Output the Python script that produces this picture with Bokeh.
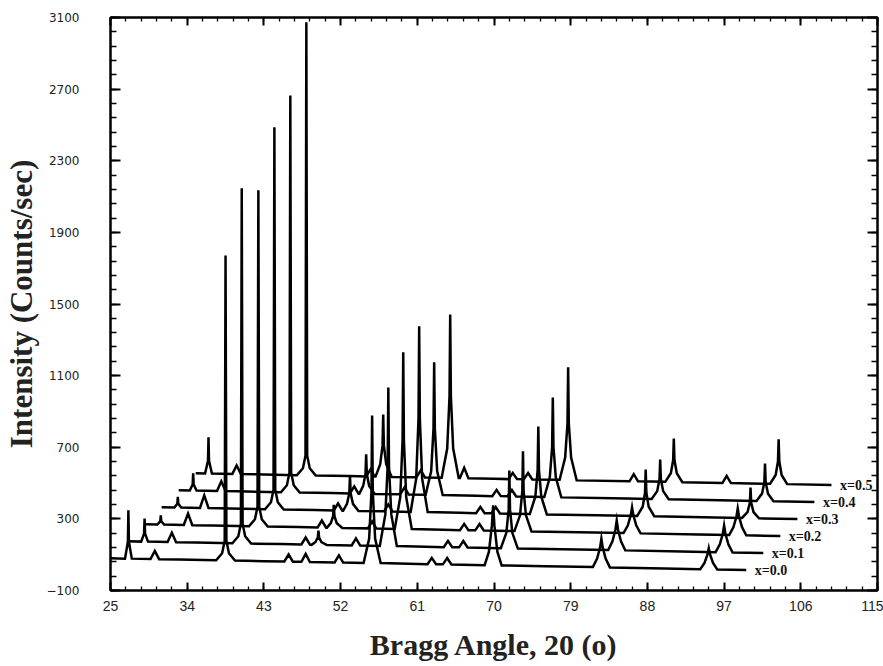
from bokeh.plotting import figure
from bokeh.models import FixedTicker, LinearAxis, Range1d
from bokeh.embed import file_html
from bokeh.resources import INLINE
from bokeh.core.properties import value

# ---------------- data (2-theta in degrees, intensity in counts/sec) ----------------
X_TICKS = [25, 34, 43, 52, 61, 70, 79, 88, 97, 106, 115]
Y_TICKS = [-100, 300, 700, 1100, 1500, 1900, 2300, 2700, 3100]
SERIES_LABELS = ["x=0.0", "x=0.1", "x=0.2", "x=0.3", "x=0.4", "x=0.5"]

# waterfall offsets between successive patterns
SHIFT_X = 2.0
SHIFT_Y = 95

S00 = [
    (25.0, 80), (26.7, 78), (27.04, 172), (27.1, 348), (27.16, 172), (27.5, 78),
    (29.7, 76), (30.2, 121), (30.7, 75),
    (33.0, 73), (37.4, 69), (38.1, 108), (38.4, 178), (38.5, 1771), (38.6, 178), (38.9, 108), (39.6, 67),
    (43.0, 64), (45.4, 62), (45.9, 101), (46.4, 61),
    (47.4, 60), (47.9, 104), (48.4, 59),
    (51.3, 57), (51.8, 96), (52.3, 56),
    (54.7, 54), (55.35, 190), (55.62, 450), (55.7, 877), (55.78, 450), (56.05, 190), (56.7, 53),
    (60.0, 49), (62.2, 47), (62.7, 82), (63.2, 47),
    (64.0, 46), (64.5, 81), (65.0, 45),
    (68.9, 41), (69.4, 115), (69.75, 262), (69.9, 375), (70.05, 262), (70.4, 115), (70.9, 40),
    (76.0, 35), (81.6, 31), (82.1, 78), (82.45, 141), (82.6, 190), (82.75, 141), (83.1, 78), (83.6, 29),
    (90.0, 23), (94.2, 19), (94.7, 54), (95.05, 101), (95.2, 136), (95.35, 101), (95.7, 54), (96.2, 17),
    (99.6, 14),
]

S01 = [
    (25.0, 80), (26.6, 78), (26.94, 123), (27.0, 207), (27.06, 123), (27.4, 78),
    (29.7, 76), (30.2, 128), (30.7, 75),
    (33.0, 73), (37.3, 69), (38.0, 108), (38.3, 178), (38.4, 2051), (38.5, 178), (38.8, 108), (39.5, 67),
    (43.0, 64), (45.4, 62), (45.9, 101), (46.4, 61),
    (46.6, 60), (47.05, 76), (47.32, 100), (47.4, 140), (47.48, 100), (47.75, 76), (48.4, 59),
    (51.3, 57), (51.8, 96), (52.3, 56),
    (54.6, 54), (55.25, 230), (55.52, 496), (55.6, 939), (55.68, 496), (55.95, 230), (56.6, 53),
    (60.0, 49), (62.1, 47), (62.6, 82), (63.1, 47),
    (63.9, 46), (64.4, 81), (64.9, 45),
    (68.8, 41), (69.45, 127), (69.72, 258), (69.8, 475), (69.88, 258), (70.15, 127), (70.8, 39),
    (76.0, 35), (81.4, 31), (81.9, 80), (82.25, 146), (82.4, 196), (82.55, 146), (82.9, 80), (83.4, 29),
    (90.0, 23), (94.0, 19), (94.5, 63), (94.85, 123), (95.0, 168), (95.15, 123), (95.5, 63), (96.0, 17),
    (99.6, 14),
]

S02 = [
    (25.0, 80), (26.5, 78), (26.84, 96), (26.9, 129), (26.96, 96), (27.3, 78),
    (29.6, 76), (30.1, 140), (30.6, 75),
    (33.0, 73), (37.25, 69), (37.95, 108), (38.25, 178), (38.35, 1945), (38.45, 178), (38.75, 108), (39.45, 67),
    (43.0, 64), (45.3, 62), (45.8, 101), (46.3, 61),
    (46.4, 61), (46.85, 86), (47.12, 125), (47.2, 189), (47.28, 125), (47.55, 86), (48.2, 59),
    (51.2, 57), (51.7, 96), (52.2, 56),
    (54.35, 54), (55.0, 231), (55.27, 547), (55.35, 1040), (55.43, 547), (55.7, 231), (56.35, 53),
    (60.0, 49), (62.0, 47), (62.5, 82), (63.0, 47),
    (63.8, 46), (64.3, 81), (64.8, 45),
    (68.4, 42), (69.05, 130), (69.32, 264), (69.4, 487), (69.48, 264), (69.75, 130), (70.4, 40),
    (76.0, 35), (81.2, 31), (81.7, 73), (82.05, 131), (82.2, 174), (82.35, 131), (82.7, 73), (83.2, 29),
    (90.0, 23), (93.6, 20), (94.1, 64), (94.45, 123), (94.6, 168), (94.75, 123), (95.1, 64), (95.6, 18),
    (99.6, 14),
]

S03 = [
    (25.0, 80), (26.5, 78), (26.84, 99), (26.9, 138), (26.96, 99), (27.3, 78),
    (29.5, 76), (30.0, 146), (30.5, 76),
    (33.0, 73), (37.13, 69), (37.83, 108), (38.13, 178), (38.23, 2202), (38.33, 178), (38.63, 108), (39.33, 67),
    (43.0, 64), (45.2, 62), (45.7, 101), (46.2, 61),
    (46.3, 61), (46.75, 99), (47.02, 158), (47.1, 257), (47.18, 158), (47.45, 99), (48.1, 59),
    (51.1, 57), (51.6, 96), (52.1, 56),
    (54.22, 54), (54.87, 240), (55.14, 572), (55.22, 1090), (55.3, 572), (55.57, 240), (56.22, 53),
    (60.0, 49), (61.9, 47), (62.4, 82), (62.9, 47),
    (63.7, 46), (64.2, 81), (64.7, 45),
    (68.2, 42), (68.85, 139), (69.12, 286), (69.2, 531), (69.28, 286), (69.55, 139), (70.2, 40),
    (76.0, 35), (80.8, 31), (81.45, 83), (81.72, 161), (81.8, 291), (81.88, 161), (82.15, 83), (82.8, 30),
    (90.0, 23), (93.1, 20), (93.75, 53), (94.02, 105), (94.1, 190), (94.18, 105), (94.45, 53), (95.1, 18),
    (99.6, 14),
]

S04 = [
    (25.0, 80), (26.3, 78), (26.64, 112), (26.7, 174), (26.76, 112), (27.1, 78),
    (29.5, 76), (30.0, 130), (30.5, 76),
    (33.0, 73), (37.0, 69), (37.7, 108), (38.0, 178), (38.1, 2285), (38.2, 178), (38.5, 108), (39.2, 67),
    (43.0, 64), (45.1, 62), (45.6, 101), (46.1, 61),
    (46.2, 61), (46.65, 104), (46.92, 170), (47.0, 280), (47.08, 170), (47.35, 104), (48.0, 59),
    (51.0, 57), (51.5, 96), (52.0, 56),
    (53.98, 55), (54.63, 187), (54.9, 424), (54.98, 794), (55.06, 424), (55.33, 187), (55.98, 53),
    (60.0, 49), (61.8, 47), (62.3, 82), (62.8, 47),
    (63.6, 46), (64.1, 81), (64.6, 45),
    (67.9, 42), (68.55, 152), (68.82, 320), (68.9, 598), (68.98, 320), (69.25, 152), (69.9, 40),
    (76.0, 35), (80.5, 31), (81.15, 75), (81.42, 141), (81.5, 252), (81.58, 141), (81.85, 75), (82.5, 30),
    (90.0, 23), (92.8, 20), (93.45, 61), (93.72, 124), (93.8, 229), (93.88, 124), (94.15, 61), (94.8, 19),
    (99.6, 14),
]

S05 = [
    (25.0, 80), (26.1, 79), (26.44, 149), (26.5, 280), (26.56, 149), (26.9, 78),
    (29.3, 76), (29.8, 123), (30.3, 76),
    (33.0, 73), (36.88, 69), (37.58, 108), (37.88, 178), (37.98, 2598), (38.08, 178), (38.38, 108), (39.08, 67),
    (43.0, 64), (45.0, 62), (45.5, 101), (46.0, 61),
    (46.1, 61), (46.65, 130), (46.92, 234), (47.0, 408), (47.08, 234), (47.35, 130), (48.0, 59),
    (50.9, 57), (51.4, 96), (51.9, 56),
    (53.86, 55), (54.51, 218), (54.78, 510), (54.86, 967), (54.94, 510), (55.21, 218), (55.86, 53),
    (56.0, 53), (56.5, 110), (57.0, 52),
    (60.0, 49), (61.7, 47), (62.2, 82), (62.7, 47),
    (63.5, 46), (64.0, 81), (64.5, 45),
    (67.7, 43), (68.35, 167), (68.62, 356), (68.7, 671), (68.78, 356), (69.05, 167), (69.7, 40),
    (75.9, 35), (76.4, 75), (76.9, 35),
    (80.1, 32), (80.75, 80), (81.02, 152), (81.1, 274), (81.18, 152), (81.45, 80), (82.1, 30),
    (86.8, 25), (87.3, 65), (87.8, 25),
    (90.0, 23), (92.4, 21), (93.05, 70), (93.32, 145), (93.4, 269), (93.48, 145), (93.75, 70), (94.4, 19),
    (99.6, 14),
]

PATTERNS = [S00, S01, S02, S03, S04, S05]

# ---------------- figure ----------------
X_MINOR = [round(25 + 1.8 * k, 2) for k in range(51)]
Y_MINOR = [-100 + 80 * k for k in range(41)]

p = figure(
    width=883, height=666,
    x_range=Range1d(25, 115), y_range=Range1d(-100, 3100),
    output_backend="svg", toolbar_location=None,
    min_border_left=109, min_border_right=6, min_border_top=17, min_border_bottom=76,
    background_fill_color="white", border_fill_color="white",
)
p.xgrid.visible = False
p.ygrid.visible = False
p.outline_line_color = "black"
p.outline_line_width = 2


def style_axis(ax, ticks, minor, major_len, minor_len):
    ax.ticker = FixedTicker(ticks=ticks, minor_ticks=minor)
    ax.axis_line_color = "black"
    ax.axis_line_width = 2
    ax.major_tick_in = major_len
    ax.major_tick_out = 0
    ax.minor_tick_in = minor_len
    ax.minor_tick_out = 0
    ax.major_tick_line_color = "black"
    ax.major_tick_line_width = 2
    ax.minor_tick_line_color = "black"
    ax.minor_tick_line_width = 1.3
    ax.major_label_text_color = "#222222"


xa = p.xaxis[0]
style_axis(xa, X_TICKS, X_MINOR, 8, 4)
xa.major_label_text_font = "Liberation Sans"
xa.major_label_text_font_size = "14px"
xa.major_label_standoff = 10
xa.axis_label = "Bragg Angle, 20 (o)"
xa.axis_label_text_font = "Liberation Serif"
xa.axis_label_text_font_style = "bold"
xa.axis_label_text_font_size = "30px"
xa.axis_label_text_color = "#222222"
xa.axis_label_standoff = 14

ya = p.yaxis[0]
style_axis(ya, Y_TICKS, Y_MINOR, 10, 6)
ya.major_label_text_font = "DejaVu Sans"
ya.major_label_text_font_size = "12px"
ya.major_label_standoff = 31
ya.axis_label = "Intensity (Counts/sec)"
ya.axis_label_text_font = "Liberation Serif"
ya.axis_label_text_font_style = "bold"
ya.axis_label_text_font_size = "31px"
ya.axis_label_text_color = "#222222"
ya.axis_label_standoff = 5

# frame axes on top and right: ticks only, no labels
top_ax = LinearAxis()
style_axis(top_ax, X_TICKS, X_MINOR, 8, 4)
top_ax.major_label_overrides = {t: "" for t in X_TICKS}
top_ax.major_label_standoff = 0
p.add_layout(top_ax, "above")

right_ax = LinearAxis()
style_axis(right_ax, Y_TICKS, Y_MINOR, 10, 6)
right_ax.major_label_overrides = {t: "" for t in Y_TICKS}
right_ax.major_label_standoff = 0
p.add_layout(right_ax, "right")

# ---------------- patterns (stacked waterfall) ----------------
lab_x, lab_y = [], []
for i, pattern in enumerate(PATTERNS):
    xs = [t + SHIFT_X * i for t, _ in pattern]
    ys = [c + SHIFT_Y * i for _, c in pattern]
    p.line(xs, ys, line_color="black", line_width=2.5, line_join="miter")
    lab_x.append(xs[-1] + 1.0)
    lab_y.append(ys[-1])

p.text(x=lab_x, y=lab_y, text=SERIES_LABELS,
       text_font=value("Liberation Serif"), text_font_style="bold",
       text_font_size="14px", text_baseline="middle", text_align="left",
       text_color="#111111")

open("out.html", "w").write(file_html(p, INLINE))
